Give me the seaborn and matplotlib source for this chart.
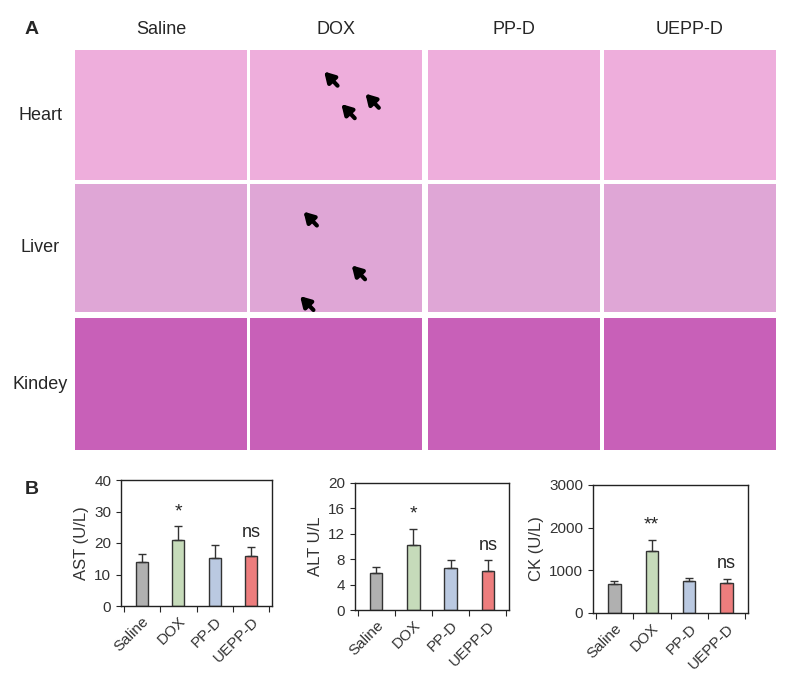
import matplotlib
matplotlib.use("Agg")
import matplotlib.pyplot as plt
import seaborn as sns
import numpy as np
import pandas as pd

sns.set_style("ticks")
plt.rcParams['font.family'] = ['Liberation Sans', 'DejaVu Sans']

groups = ["Saline", "DOX", "PP-D", "UEPP-D"]
tissues = ["Heart", "Liver", "Kindey"]
tissue_colors = ["#eeaedc", "#dfa6d6", "#c860b8"]
colors = ["#b0b0b0", "#c5e0b4", "#b4c7e7", "#ff6b6b"]

ast = [14, 21, 15.3, 16]
ast_err = [2.5, 4.3, 4.0, 2.6]
alt = [5.8, 10.2, 6.6, 6.2]
alt_err = [1.0, 2.6, 1.2, 1.6]
ck = [680, 1460, 760, 700]
ck_err = [70, 250, 70, 100]
sig = [["", "*", "", "ns"], ["", "*", "", "ns"], ["", "**", "", "ns"]]

W, H = 787, 682
fig = plt.figure(figsize=(W/100, H/100), dpi=100)

colx = [75, 250, 428, 604]
roww = [(50, 180), (184, 312), (318, 450)]
tile_axes = {}
for r, (y0, y1) in enumerate(roww):
    for c, x0 in enumerate(colx):
        ax = fig.add_axes([x0/W, 1-y1/H, 172/W, (y1-y0)/H])
        ax.set_facecolor(tissue_colors[r])
        ax.set_xlim(0, 1); ax.set_ylim(0, 1)
        ax.set_xticks([]); ax.set_yticks([])
        for s in ax.spines.values():
            s.set_visible(False)
        tile_axes[(r, c)] = ax
    fig.text(40/W, 1-(y0+y1)/2/H, tissues[r], ha="center", va="center", fontsize=13)
for c, x0 in enumerate(colx):
    fig.text((x0+86)/W, 1-30/H, groups[c], ha="center", va="center", fontsize=13)
fig.text(25/W, 1-30/H, "A", fontsize=14, fontweight="bold", va="center")
fig.text(25/W, 1-490/H, "B", fontsize=14, fontweight="bold", va="center")

arrows = {(0, 1): [(0.42, 0.85), (0.52, 0.6), (0.66, 0.68)],
          (1, 1): [(0.3, 0.8), (0.58, 0.38), (0.28, 0.14)]}
for key, pts in arrows.items():
    ax = tile_axes[key]
    for (x, y) in pts:
        ax.annotate("", xy=(x, y), xytext=(x+0.1, y-0.14),
                    arrowprops=dict(arrowstyle="-|>,head_length=0.6,head_width=0.35",
                                    color="black", lw=3))

specs = [
    (ast, ast_err, "AST (U/L)", [0, 10, 20, 30, 40], 121, 272, 480, 606),
    (alt, alt_err, "ALT U/L", [0, 4, 8, 12, 16, 20], 355, 509, 483, 610),
    (ck, ck_err, "CK (U/L)", [0, 1000, 2000, 3000], 593, 748, 485, 613),
]
for i, (vals, errs, lab, ticks, x0, x1, y0, y1) in enumerate(specs):
    ax = fig.add_axes([x0/W, 1-y1/H, (x1-x0)/W, (y1-y0)/H])
    df = pd.DataFrame({"g": groups, "v": vals})
    sns.barplot(data=df, x="g", y="v", hue="g", palette=colors, ax=ax,
                width=0.33, edgecolor="#333333", linewidth=1.0, legend=False)
    ax.errorbar(range(4), vals, yerr=[np.zeros(4), errs], fmt="none",
                ecolor="#333333", capsize=3, elinewidth=1.0)
    for j in range(4):
        if sig[i][j]:
            yy = vals[j] + errs[j] + ticks[-1]*0.05
            ax.text(j, yy, sig[i][j], ha="center", va="bottom",
                    fontsize=13 if sig[i][j] == "ns" else 14)
    ax.set_ylim(0, ticks[-1])
    ax.set_yticks(ticks)
    ax.set_xlim(-0.57, 3.57)
    ax.set_xlabel("")
    ax.set_ylabel(lab, fontsize=12, color="#333333")
    ax.set_xticks([-0.5, 0.5, 1.5, 2.5, 3.5])
    ax.set_xticklabels([])
    ax.set_xticks(range(4), minor=True)
    ax.set_xticklabels(groups, minor=True, rotation=45, ha="right",
                       rotation_mode="anchor", fontsize=11, color="#333333")
    ax.tick_params(axis="x", which="minor", length=0, pad=6)
    ax.tick_params(axis="x", which="major", length=4)
    ax.tick_params(axis="y", labelsize=11, labelcolor="#333333")
    for s in ax.spines.values():
        s.set_linewidth(1.0)
        s.set_color("#222222")

fig.savefig("out.png", dpi=100)
